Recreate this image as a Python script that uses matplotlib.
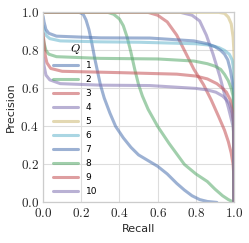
import matplotlib
matplotlib.use('Agg')
import matplotlib.pyplot as plt
import matplotlib.ticker as mtick

# precision / recall curves, one per Q
recall_1 = [0.0, 0.19, 0.21, 0.225, 0.24, 0.255, 0.27, 0.285, 0.30, 0.32, 0.35, 0.38, 0.42, 0.46, 0.50, 0.55,
            0.60, 0.65, 0.70, 0.74, 0.78, 0.82, 0.86, 0.91]
prec_1 = [1.0, 1.0, 0.99, 0.96, 0.91, 0.84, 0.76, 0.69, 0.62, 0.55, 0.47, 0.40, 0.34, 0.29, 0.25, 0.22,
          0.19, 0.15, 0.10, 0.065, 0.035, 0.015, 0.005, 0.0]

recall_2 = [0.0, 0.34, 0.37, 0.40, 0.42, 0.44, 0.46, 0.48, 0.50, 0.52, 0.55, 0.60, 0.66, 0.70, 0.74, 0.80,
            0.86, 0.90, 0.94, 0.97, 0.99, 1.0]
prec_2 = [1.0, 1.0, 0.99, 0.965, 0.93, 0.87, 0.79, 0.70, 0.62, 0.56, 0.49, 0.40, 0.31, 0.255, 0.20, 0.15,
          0.11, 0.07, 0.035, 0.015, 0.005, 0.0]

recall_3 = [0.0, 0.55, 0.60, 0.65, 0.70, 0.74, 0.79, 0.84, 0.88, 0.92, 0.95, 0.97, 0.985, 0.995, 1.0, 1.0]
prec_3 = [1.0, 1.0, 0.985, 0.95, 0.88, 0.80, 0.70, 0.62, 0.54, 0.45, 0.38, 0.32, 0.26, 0.20, 0.12, 0.0]

recall_4 = [0.0, 0.72, 0.78, 0.82, 0.855, 0.89, 0.925, 0.95, 0.97, 0.985, 0.995, 1.0, 1.0]
prec_4 = [1.0, 1.0, 0.985, 0.955, 0.88, 0.78, 0.665, 0.57, 0.50, 0.44, 0.40, 0.34, 0.0]

recall_5 = [0.0, 0.92, 0.95, 0.97, 0.985, 0.995, 1.0, 1.0]
prec_5 = [1.0, 1.0, 0.995, 0.975, 0.94, 0.87, 0.78, 0.0]

recall_6 = [0.0, 0.005, 0.015, 0.035, 0.09, 0.3, 0.5, 0.8, 0.87, 0.92, 0.95, 0.975, 0.99, 0.998, 1.0]
prec_6 = [0.93, 0.91, 0.88, 0.862, 0.85, 0.845, 0.843, 0.835, 0.828, 0.815, 0.80, 0.78, 0.75, 0.70, 0.0]

recall_7 = [0.0, 0.005, 0.015, 0.03, 0.07, 0.3, 0.56, 0.79, 0.86, 0.90, 0.93, 0.95, 0.967, 0.98, 0.99, 0.998, 1.0]
prec_7 = [0.98, 0.95, 0.91, 0.89, 0.875, 0.866, 0.865, 0.85, 0.835, 0.82, 0.80, 0.78, 0.75, 0.70, 0.64, 0.58, 0.0]

recall_8 = [0.0, 0.005, 0.015, 0.03, 0.07, 0.3, 0.6, 0.79, 0.86, 0.90, 0.93, 0.95, 0.97, 0.985, 0.995, 1.0]
prec_8 = [0.87, 0.84, 0.80, 0.78, 0.767, 0.758, 0.755, 0.744, 0.73, 0.717, 0.70, 0.674, 0.64, 0.60, 0.56, 0.0]

recall_9 = [0.0, 0.005, 0.012, 0.02, 0.04, 0.1, 0.4, 0.7, 0.8, 0.86, 0.91, 0.94, 0.96, 0.98, 0.99, 0.998, 1.0]
prec_9 = [0.89, 0.84, 0.77, 0.735, 0.705, 0.69, 0.683, 0.675, 0.665, 0.65, 0.625, 0.60, 0.58, 0.54, 0.49, 0.42, 0.0]

recall_10 = [0.0, 0.005, 0.015, 0.035, 0.09, 0.3, 0.56, 0.8, 0.86, 0.905, 0.94, 0.96, 0.975, 0.99, 0.998, 1.0]
prec_10 = [0.76, 0.72, 0.67, 0.645, 0.625, 0.617, 0.615, 0.60, 0.592, 0.58, 0.56, 0.54, 0.52, 0.47, 0.42, 0.0]

recalls = [recall_1, recall_2, recall_3, recall_4, recall_5, recall_6, recall_7, recall_8, recall_9, recall_10]
precs = [prec_1, prec_2, prec_3, prec_4, prec_5, prec_6, prec_7, prec_8, prec_9, prec_10]
labels = ['1', '2', '3', '4', '5', '6', '7', '8', '9', '10']

colors = ['#4C72B0', '#55A868', '#C44E52', '#8172B2', '#CCB974', '#64B5CD']

plt.rcParams['mathtext.fontset'] = 'cm'

fig = plt.figure(figsize=(2.49, 2.43), dpi=100)
ax = fig.add_axes([0.173, 0.167, 0.767, 0.782])

for i in range(len(labels)):
    ax.plot(recalls[i], precs[i], color=colors[i % len(colors)], lw=2.2,
            alpha=0.55, label=labels[i], solid_capstyle='round', solid_joinstyle='round')

ax.set_xlim(0, 1)
ax.set_ylim(0, 1)
ax.set_xticks([0, 0.2, 0.4, 0.6, 0.8, 1.0])
ax.set_yticks([0, 0.2, 0.4, 0.6, 0.8, 1.0])
ax.xaxis.set_major_formatter(mtick.FuncFormatter(lambda v, p: r'$%.1f$' % v))
ax.yaxis.set_major_formatter(mtick.FuncFormatter(lambda v, p: r'$%.1f$' % v))
ax.tick_params(length=0, labelsize=9.5, pad=3, labelcolor='#262626')

ax.grid(True, color='#dddddd', lw=0.8)
ax.set_axisbelow(True)
for s in ax.spines.values():
    s.set_color('#cccccc')
    s.set_linewidth(0.9)

ax.set_xlabel('Recall', fontsize=8, color='#262626', labelpad=3)
ax.set_ylabel('Precision', fontsize=8, color='#262626', labelpad=3)

leg = ax.legend(title=r'$Q$', loc='lower left', frameon=False, fontsize=6.5,
                title_fontsize=8.5, handlelength=2.8, labelspacing=0.55,
                borderaxespad=0.3, bbox_to_anchor=(0.02, 0.0))

plt.savefig('out.png', dpi=100)
plt.close()
